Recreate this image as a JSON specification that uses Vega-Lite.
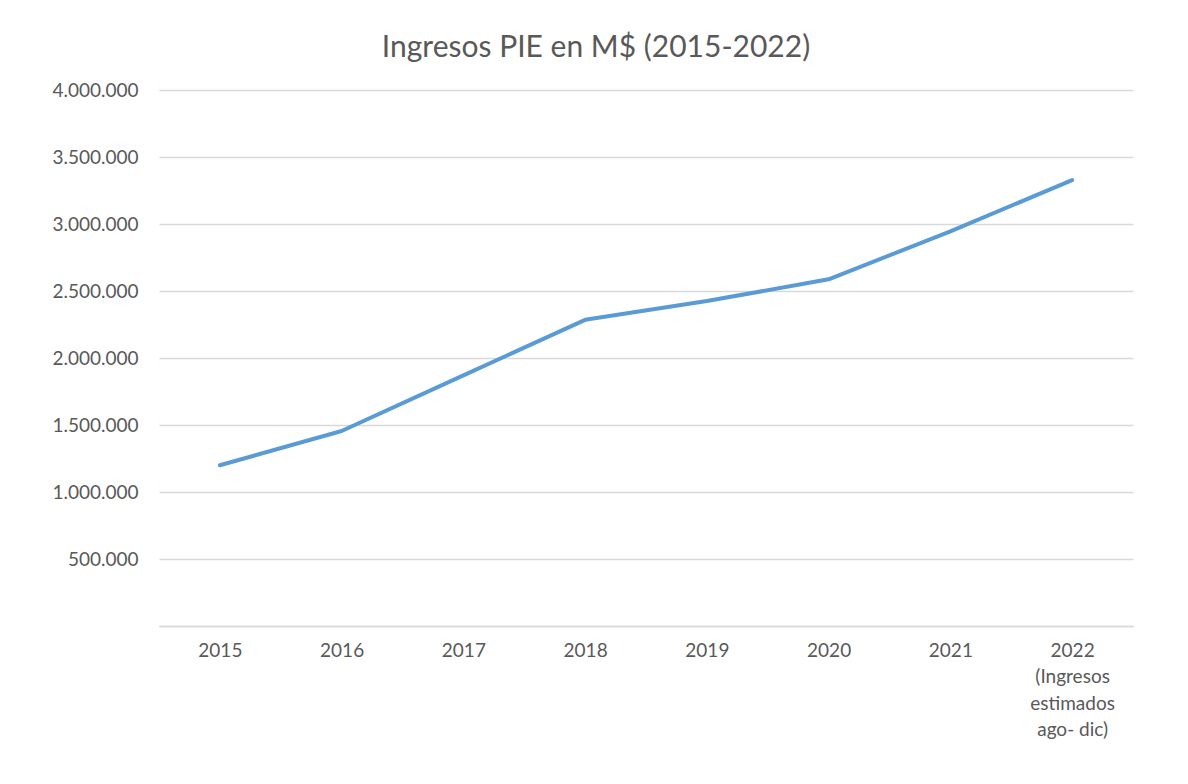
{
  "$schema": "https://vega.github.io/schema/vega-lite/v6.json",
  "autosize": "none",
  "width": 974,
  "height": 536,
  "padding": {"left": 159, "top": 90, "right": 55, "bottom": 158},
  "background": "white",
  "config": {
    "locale": {"number": {"decimal": ",", "thousands": ".", "grouping": [3], "currency": ["$", ""]}},
    "view": {"stroke": null},
    "font": "Lato"
  },
  "title": {
    "text": "Ingresos PIE en M$ (2015-2022)",
    "font": "Lato",
    "fontSize": 30,
    "fontWeight": "normal",
    "color": "#595959",
    "anchor": "middle",
    "dx": -50,
    "offset": 18
  },
  "data": {
    "values": [
      {"anio": "2015", "ingresos": 1200000},
      {"anio": "2016", "ingresos": 1455000},
      {"anio": "2017", "ingresos": 1870000},
      {"anio": "2018", "ingresos": 2285000},
      {"anio": "2019", "ingresos": 2425000},
      {"anio": "2020", "ingresos": 2587000},
      {"anio": "2021", "ingresos": 2945000},
      {"anio": "2022", "ingresos": 3328000}
    ]
  },
  "mark": {"type": "line", "color": "#5b9bd5", "strokeWidth": 4, "strokeCap": "round", "strokeJoin": "round"},
  "encoding": {
    "x": {
      "field": "anio",
      "type": "ordinal",
      "sort": null,
      "scale": {"type": "point", "padding": 0.5},
      "axis": {
        "title": null,
        "labelAngle": 0,
        "ticks": false,
        "tickSize": 0,
        "grid": false,
        "domainColor": "#d9d9d9",
        "domainWidth": 1.5,
        "labelFont": "Lato",
        "labelFontSize": 19,
        "labelColor": "#595959",
        "labelPadding": 15,
        "labelLineHeight": 26.5,
        "labelBaseline": "top",
        "labelExpr": "datum.value == '2022' ? ['2022', '(Ingresos', 'estimados', 'ago- dic)'] : datum.label"
      }
    },
    "y": {
      "field": "ingresos",
      "type": "quantitative",
      "scale": {"domain": [0, 4000000], "nice": false},
      "axis": {
        "title": null,
        "values": [0, 500000, 1000000, 1500000, 2000000, 2500000, 3000000, 3500000, 4000000],
        "format": ",d",
        "labelExpr": "datum.value == 0 ? '' : datum.label",
        "domain": false,
        "ticks": false,
        "tickSize": 0,
        "gridColor": "#d9d9d9",
        "gridWidth": 1.5,
        "labelFont": "Lato",
        "labelFontSize": 19,
        "labelColor": "#595959",
        "labelPadding": 21
      }
    }
  }
}
